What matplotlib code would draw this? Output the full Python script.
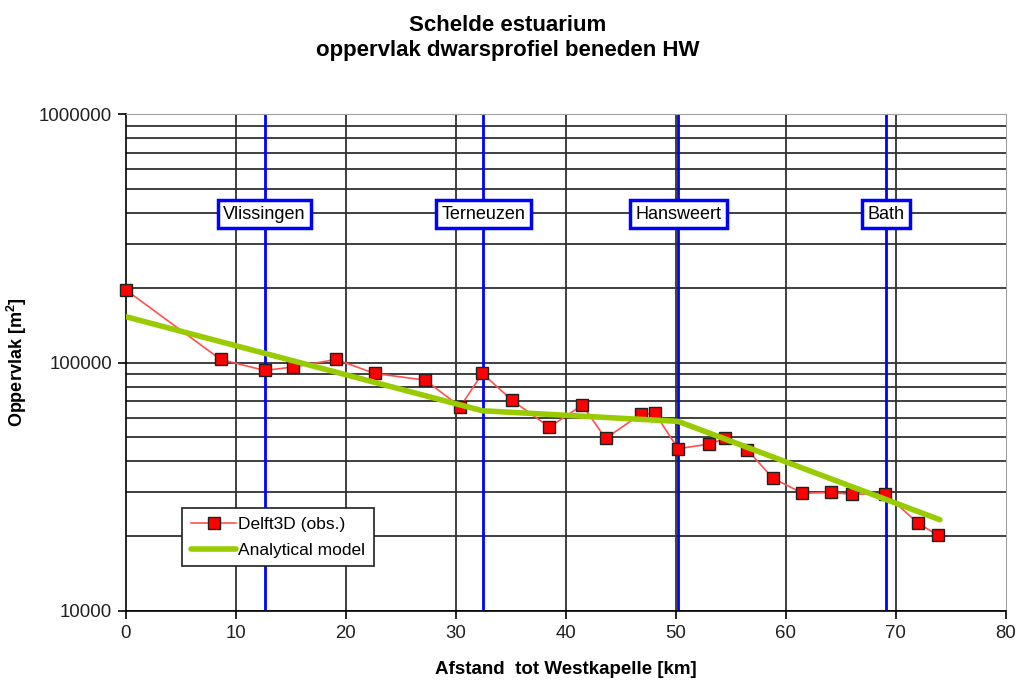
import matplotlib
matplotlib.use("Agg")
import matplotlib.pyplot as plt
from matplotlib.ticker import FixedLocator, LogLocator, NullFormatter, FuncFormatter

plt.rcParams['font.family'] = ['Liberation Sans', 'DejaVu Sans']

# Delft3D observations
obs_x = [0.0, 8.6, 12.6, 15.2, 19.1, 22.6, 27.2, 30.4, 32.4, 35.1, 38.5, 41.5, 43.6,
         46.8, 48.1, 50.2, 53.0, 54.5, 56.5, 58.8, 61.5, 64.1, 66.0, 69.0, 72.0, 73.8]
obs_y = [196000, 103000, 93000, 96000, 103000, 90500, 85000, 66500, 90500, 70500,
         55000, 67500, 49500, 62000, 62500, 45000, 47000, 49500, 44500, 34300,
         29800, 30000, 29500, 29700, 22600, 20200]

# Analytical model
model_x = [0.0, 32.4, 50.2, 74.0]
model_y = [153000, 64000, 58000, 23300]

# Stations
station_names = ['Vlissingen', 'Terneuzen', 'Hansweert', 'Bath']
station_x = [12.6, 32.5, 50.2, 69.1]

fig = plt.figure(figsize=(10.16, 6.8), dpi=100)
ax = fig.add_axes([0.124, 0.1015, 0.866, 0.7305])

ax.set_yscale('log')
ax.set_xlim(0, 80)
ax.set_ylim(1e4, 1e6)

grid_col = '#303030'
ax.yaxis.set_major_locator(FixedLocator([1e4, 1e5, 1e6]))
ax.yaxis.set_minor_locator(LogLocator(base=10, subs=range(2, 10)))
ax.yaxis.set_major_formatter(FuncFormatter(lambda v, p: f"{int(round(v))}"))
ax.yaxis.set_minor_formatter(NullFormatter())
ax.set_xticks(range(0, 81, 10))

for v in range(10, 71, 10):
    ax.axvline(v, color=grid_col, lw=1.3, zorder=1)
ax.grid(True, axis='y', which='both', color=grid_col, lw=1.3, zorder=1)
ax.set_axisbelow(True)

for sx, name in zip(station_x, station_names):
    ax.axvline(sx, color='#0000ff', lw=2.0, zorder=2)
    ax.text(sx, 396000, name, ha='center', va='center', fontsize=13, zorder=6,
            bbox=dict(boxstyle='square,pad=0.3', facecolor='white', edgecolor='#0000ff', lw=2.5))

ax.plot(obs_x, obs_y, color='#ff5050', lw=1.2, marker='s', markersize=8.5,
        markerfacecolor='#ff0000', markeredgecolor='#202020', markeredgewidth=1.0,
        zorder=4, label='Delft3D (obs.)', clip_on=False)
ax.plot(model_x, model_y, color='#99cc00', lw=4.0, zorder=5, label='Analytical model',
        solid_capstyle='round')

for s in ['top', 'right']:
    ax.spines[s].set_color('#a0a0a0')
for s in ['left', 'bottom']:
    ax.spines[s].set_color('black')
    ax.spines[s].set_linewidth(1.2)

ax.tick_params(axis='both', which='major', direction='out', length=6, width=1.2,
               labelsize=13.4, colors='black', labelcolor='#202020', pad=4)
ax.tick_params(axis='y', which='minor', length=0)

ax.set_xlabel('Afstand  tot Westkapelle [km]', fontsize=13.5, fontweight='bold', labelpad=14)
ax.set_ylabel('Oppervlak [m$^\\mathregular{2}$]', fontsize=13, fontweight='bold', labelpad=7)

fig.suptitle('Schelde estuarium\noppervlak dwarsprofiel beneden HW', fontsize=16,
             fontweight='bold', y=0.978, linespacing=1.25)

leg = ax.legend(loc='lower left', bbox_to_anchor=(0.064, 0.09), borderaxespad=0,
                fancybox=False, framealpha=1, edgecolor='#202020', fontsize=12.5,
                handlelength=2.6, handletextpad=0.1, borderpad=0.5, labelspacing=0.6)
leg.get_frame().set_linewidth(1.2)
leg.set_zorder(10)

fig.savefig('out.png', dpi=100, facecolor='white')
